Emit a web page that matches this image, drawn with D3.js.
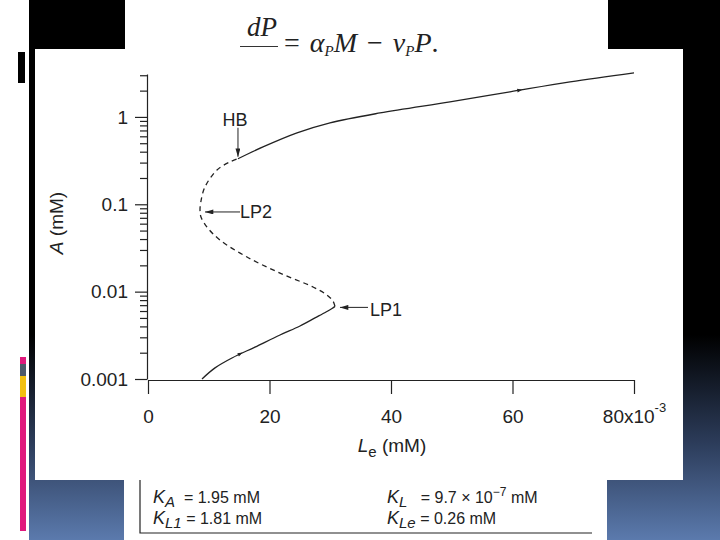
<!DOCTYPE html>
<html>
<head>
<meta charset="utf-8">
<script src="https://cdn.jsdelivr.net/npm/d3@7"></script>
<style>
  body { margin: 0; background: #fff; }
  svg text { fill: #222; }
</style>
</head>
<body>
<svg id="slide" width="720" height="540"></svg>
<script>
// Le in units of 10^-3 mM, A in mM
var lowerBranch = [[8.89, 0.001], [11.03, 0.00134], [13.83, 0.00174], [17.61, 0.00232],
                   [21.73, 0.00319], [25.02, 0.00404], [27.49, 0.00500], [29.30, 0.00585],
                   [30.29, 0.00642], [30.78, 0.00678]];
var unstableBranch = [[30.78, 0.00678], [30.45, 0.00780], [29.47, 0.00914], [27.16, 0.0113],
                      [21.73, 0.0163], [16.30, 0.0249], [11.85, 0.0390], [9.71, 0.0549],
                      [8.72, 0.0716], [8.56, 0.0861], [8.72, 0.109], [9.38, 0.158],
                      [11.36, 0.247], [13.5, 0.306], [14.81, 0.332]];
var upperBranch = [[14.81, 0.332], [18.93, 0.453], [24.53, 0.656], [29.96, 0.855],
                   [38.19, 1.11], [49.71, 1.49], [59.59, 1.94], [69.47, 2.52], [80, 3.2]];
var points = [
  { name: 'HB',  le: 14.81, a: 0.332 },
  { name: 'LP2', le: 8.56,  a: 0.0861 },
  { name: 'LP1', le: 30.78, a: 0.00678 }
];
// small direction arrows drawn on the stable branches: [from, to]
var flowMarks = [[[13.83, 0.00174], [15.2, 0.00195]], [[59.59, 1.94], [61.2, 2.02]]];
var xTicks = [0, 20, 40, 60, 80];
var yTicks = [0.001, 0.01, 0.1, 1];
var yTickLabels = ['0.001', '0.01', '0.1', '1'];
var constants = [
  { k: 'A',  eq: '  = 1.95 mM' },
  { k: 'L1', eq: ' = 1.81 mM' },
  { k: 'L',  eq: '   = 9.7 \u00d7 10', sup: '\u22127', tail: ' mM' },
  { k: 'Le', eq: ' = 0.26 mM' }
];

var svg = d3.select('#slide');
var font = 'Liberation Sans, Arial, sans-serif';
var serif = 'Liberation Serif, Times New Roman, serif';

// slide background
var defs = svg.append('defs');
var grad = defs.append('linearGradient').attr('id', 'bg')
  .attr('x1', 0).attr('y1', 0).attr('x2', 0).attr('y2', 1);
grad.append('stop').attr('offset', 0).attr('stop-color', '#000');
grad.append('stop').attr('offset', 0.62).attr('stop-color', '#000');
grad.append('stop').attr('offset', 0.82).attr('stop-color', '#2c3c5a');
grad.append('stop').attr('offset', 1).attr('stop-color', '#5b7aad');

defs.append('marker').attr('id', 'arr')
  .attr('viewBox', '0 0 10 6').attr('refX', 10).attr('refY', 3)
  .attr('markerWidth', 9).attr('markerHeight', 5).attr('markerUnits', 'userSpaceOnUse')
  .attr('orient', 'auto')
  .append('path').attr('d', 'M0,0L10,3L0,6Z').attr('fill', '#222');

svg.append('rect').attr('x', 29).attr('y', 0).attr('width', 691).attr('height', 540)
  .attr('fill', 'url(#bg)');

// left accent bar
svg.append('rect').attr('x', 18).attr('y', 52).attr('width', 7).attr('height', 31).attr('fill', '#000');
[['#e0197d', 357, 7], ['#4d5a6a', 364, 12], ['#f2c010', 376, 21], ['#e0197d', 397, 134]]
  .forEach(function(s) {
    svg.append('rect').attr('x', 20).attr('y', s[1]).attr('width', 6).attr('height', s[2]).attr('fill', s[0]);
  });

// formula box, chart box, table box
svg.append('rect').attr('x', 125).attr('y', 0).attr('width', 483).attr('height', 60).attr('fill', '#fff');
svg.append('rect').attr('x', 35).attr('y', 49).attr('width', 648).attr('height', 431).attr('fill', '#fff');
svg.append('rect').attr('x', 124).attr('y', 480).attr('width', 483).attr('height', 60).attr('fill', '#fff');

svg.append('text').attr('x', 247).attr('y', 36).attr('font-family', serif)
  .attr('font-style', 'italic').attr('font-size', 27).attr('fill', '#333').text('dP');
svg.append('line').attr('x1', 240).attr('x2', 278).attr('y1', 46.5).attr('y2', 46.5)
  .attr('stroke', '#333').attr('stroke-width', 1.1);
var eq = svg.append('text').attr('x', 284).attr('y', 52).attr('font-family', serif)
  .attr('font-size', 28).attr('fill', '#333');
eq.append('tspan').text('=');
eq.append('tspan').attr('dx', 10).attr('font-style', 'italic').text('\u03b1');
eq.append('tspan').attr('font-style', 'italic').attr('font-size', 15).attr('dy', 4).text('P');
eq.append('tspan').attr('font-style', 'italic').attr('dy', -4).text('M');
eq.append('tspan').attr('dx', 10).text('\u2212');
eq.append('tspan').attr('dx', 10).attr('font-style', 'italic').text('\u03bd');
eq.append('tspan').attr('font-style', 'italic').attr('font-size', 15).attr('dy', 4).text('P');
eq.append('tspan').attr('font-style', 'italic').attr('dy', -4).text('P');
eq.append('tspan').text('.');

svg.append('path').attr('d', 'M140,480V533H592').attr('fill', 'none')
  .attr('stroke', '#222').attr('stroke-width', 1.2);

var cols = [153, 387], rows = [503, 524];
constants.forEach(function(c, i) {
  var t = svg.append('text').attr('x', cols[Math.floor(i / 2)]).attr('y', rows[i % 2])
    .attr('font-family', font).attr('font-size', 16).attr('xml:space', 'preserve');
  t.append('tspan').attr('font-style', 'italic').attr('font-size', 18).text('K');
  t.append('tspan').attr('font-style', 'italic').attr('font-size', 15).attr('dy', 4).text(c.k);
  t.append('tspan').attr('dy', -4).text(c.eq);
  if (c.sup) {
    t.append('tspan').attr('font-size', 12).attr('dy', -7).text(c.sup);
    t.append('tspan').attr('dy', 7).text(c.tail);
  }
});

// plot
var x = d3.scaleLinear().domain([0, 80]).range([148, 634]);
var y = d3.scaleLog().domain([0.001, 3.1]).range([379, 74]);

var minor = [];
yTicks.forEach(function(d) {
  for (var m = 2; m <= 9; m++) if (d * m <= 3.1) minor.push(d * m);
});

var yMinor = svg.append('g').attr('transform', 'translate(147,0)')
  .call(d3.axisLeft(y).tickValues(minor).tickSize(7).tickSizeOuter(0).tickFormat(''));
yMinor.select('.domain').remove();

var yAxis = svg.append('g').attr('transform', 'translate(147,0)')
  .call(d3.axisLeft(y).tickValues(yTicks).tickSize(12).tickSizeOuter(0).tickPadding(7)
    .tickFormat(function(d, i) { return yTickLabels[i]; }));

var xAxis = svg.append('g').attr('transform', 'translate(0,380)')
  .call(d3.axisBottom(x).tickValues(xTicks).tickSize(14).tickSizeOuter(0).tickPadding(16));
xAxis.selectAll('text').filter(function(d) { return d === 80; })
  .text('80x10').append('tspan').attr('font-size', 13).attr('dy', -11).text('-3');

[yMinor, yAxis, xAxis].forEach(function(g) {
  g.attr('font-family', font).attr('font-size', 19);
  g.selectAll('path, line').attr('stroke', '#222').attr('stroke-width', 1.2);
  g.selectAll('text').attr('fill', '#222');
});

var xl = svg.append('text').attr('x', 392).attr('y', 452).attr('text-anchor', 'middle')
  .attr('font-family', font).attr('font-size', 19);
xl.append('tspan').attr('font-style', 'italic').text('L');
xl.append('tspan').attr('font-size', 15).attr('dy', 5).text('e');
xl.append('tspan').attr('dy', -5).text(' (mM)');

var yl = svg.append('text').attr('transform', 'translate(63,223) rotate(-90)')
  .attr('text-anchor', 'middle').attr('font-family', font).attr('font-size', 19);
yl.append('tspan').attr('font-style', 'italic').text('A');
yl.append('tspan').text(' (mM)');

var line = d3.line()
  .x(function(d) { return x(d[0]); })
  .y(function(d) { return y(d[1]); })
  .curve(d3.curveCatmullRom.alpha(0.5));

[lowerBranch, upperBranch].forEach(function(b) {
  svg.append('path').datum(b).attr('d', line)
    .attr('fill', 'none').attr('stroke', '#222').attr('stroke-width', 1.3);
});
svg.append('path').datum(unstableBranch).attr('d', line)
  .attr('fill', 'none').attr('stroke', '#222').attr('stroke-width', 1.3)
  .attr('stroke-dasharray', '5,4');

flowMarks.forEach(function(m) {
  var x0 = x(m[0][0]), y0 = y(m[0][1]), x1 = x(m[1][0]), y1 = y(m[1][1]);
  var ang = Math.atan2(y1 - y0, x1 - x0) * 180 / Math.PI;
  svg.append('path').attr('d', 'M-2.5,-1.8L2.5,0L-2.5,1.8Z').attr('fill', '#222')
    .attr('transform', 'translate(' + x1 + ',' + y1 + ') rotate(' + ang + ')');
});

// labels for bifurcation points
var ann = {
  HB:  { tx: -3, ty: -33, anchor: 'middle', a: [0, -31, 0, -2] },
  LP2: { tx: 40, ty: 8, anchor: 'start', a: [40, 2, 5, 2] },
  LP1: { tx: 35, ty: 10, anchor: 'start', a: [33, 1, 5, 1] }
};
points.forEach(function(p) {
  var o = ann[p.name], px = x(p.le), py = y(p.a);
  svg.append('line')
    .attr('x1', px + o.a[0]).attr('y1', py + o.a[1])
    .attr('x2', px + o.a[2]).attr('y2', py + o.a[3])
    .attr('stroke', '#222').attr('stroke-width', 1)
    .attr('marker-end', 'url(#arr)');
  svg.append('text').attr('x', px + o.tx).attr('y', py + o.ty)
    .attr('text-anchor', o.anchor).attr('font-family', font).attr('font-size', 18)
    .text(p.name);
});
</script>
</body>
</html>
